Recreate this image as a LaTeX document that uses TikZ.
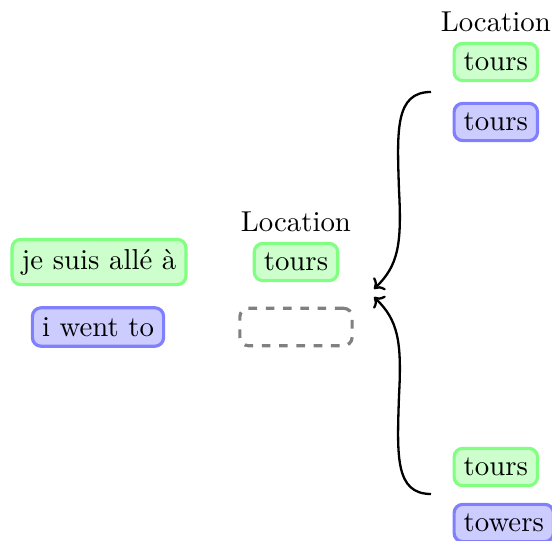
\documentclass[tikz,border=0pt]{standalone}
\usetikzlibrary{arrows.meta, positioning}

\begin{document}
\begin{tikzpicture}[
      x=0.3472pt, y=-0.3472pt,
      node distance=0pt,
      src/.style={rectangle, rounded corners=3pt, draw=green!50, fill=green!20, line width=1.1pt},
      tgt/.style={rectangle, rounded corners=3pt, draw=blue!50, fill=blue!20, line width=1.1pt},
      slot/.style={rectangle, rounded corners=3pt, draw=gray, dashed, line width=1.1pt, minimum width=39pt, minimum height=13pt},
      arrow/.style={-{To[length=3pt, width=6pt]}, thick}
    ]
      \useasboundingbox (0,0) rectangle (552,541);

      % sentence pair
      \node[src] (fr) at (99,262) {je suis allé à};
      \node[tgt] (en) at (98,327) {i went to};

      % slot being filled
      \node[src] (mid) at (296,262) {tours};
      \node[above=of mid] (midlab) {Location};
      \node[slot] (gap) at (296,327) {};

      % candidates
      \node[src, anchor=west] (c1) at (452.5,62) {tours};
      \node[above=of c1] (c1lab) {Location};
      \node[tgt, anchor=west] (c1t) at (452.5,122) {tours};
      \node[src, anchor=west] (c2) at (452.5,467) {tours};
      \node[tgt, anchor=west] (c2t) at (452.5,523) {towers};

      \coordinate (hi) at (431,92);
      \coordinate (lo) at (431,494);
      \coordinate (inA) at (374,289);
      \coordinate (inB) at (374,297);

      \draw[arrow] (hi) .. controls (395,92) and (397,130) .. (399,190)
                        .. controls (402,245) and (398,266) .. (inA);
      \draw[arrow] (lo) .. controls (395,494) and (397,456) .. (399,396)
                        .. controls (402,341) and (398,320) .. (inB);
    \end{tikzpicture}
\end{document}
